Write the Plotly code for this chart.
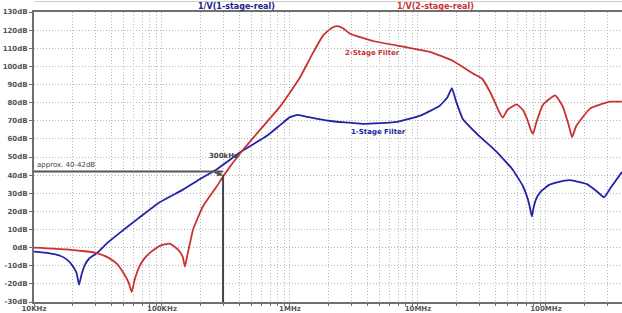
import plotly.graph_objects as go

# ---- data ----
freq_1stage = [10e3, 13e3, 16e3, 18e3, 20e3, 21.5e3, 22.5e3, 23.5e3, 25e3, 27e3, 31e3, 38e3,
               47e3, 65e3, 96e3, 146e3, 200e3, 269e3, 422e3, 661e3, 850e3, 1.0e6, 1.15e6,
               1.4e6, 2.0e6, 3.7e6, 6.9e6, 10.4e6, 14.8e6, 17e6, 18.4e6, 20e6, 22.4e6,
               30e6, 41e6, 55e6, 66e6, 72e6, 75e6, 77.6e6, 80e6, 84e6, 90e6, 105e6, 122e6,
               154e6, 209e6, 250e6, 284e6, 320e6, 392e6]
db_1stage = [-2.2, -3, -4.5, -6.5, -10, -14, -20.5, -15, -9.5, -6, -3, 3,
             8.3, 16, 25, 32, 38, 43.3, 53.3, 61.7, 68, 72, 73.2,
             72, 70, 68.3, 69.4, 72.8, 78.3, 83, 88, 80, 71,
             61.7, 53, 43, 34, 27, 22, 17.2, 22, 27, 30.5, 34.5, 36,
             37.2, 35, 31, 27.8, 33, 41.7]

freq_2stage = [10e3, 18e3, 25e3, 31e3, 38e3, 44.5e3, 50e3, 55e3, 58e3, 61e3, 66e3, 72e3,
               80e3, 96e3, 115e3, 133e3, 145e3, 151e3, 158e3, 166e3, 175e3, 209e3, 269e3,
               305e3, 422e3, 661e3, 836e3, 1.05e6, 1.2e6, 1.5e6, 1.81e6, 2.1e6, 2.33e6,
               2.6e6, 2.95e6, 4.44e6, 8.2e6, 12.4e6, 18.8e6, 27e6, 31.6e6, 36.5e6, 40e6,
               43e6, 46e6, 50e6, 59e6, 66e6, 72e6, 76e6, 79.4e6, 84e6, 95e6, 118e6,
               135e6, 150e6, 160e6, 172e6, 221e6, 316e6, 392e6]
db_2stage = [0, -1, -2, -3, -5.5, -9, -14, -19.5, -24.5, -18, -11, -6.5,
             -3, 1, 2.2, -1, -5, -10.5, -4, 3, 10, 22.8, 34,
             40, 53.3, 69.4, 77.8, 87.8, 94, 107, 117, 121, 122.2,
             121, 118, 114, 110.5, 108, 103, 96, 93.3, 86, 80,
             75, 71.7, 76, 79, 76, 70, 65, 62.8, 69, 79, 84,
             78, 68, 61, 67, 76.7, 80.5, 80.5]

x_tick_vals = [1e4, 1e5, 1e6, 1e7, 1e8]
x_tick_text = ["10KHz", "100KHz", "1MHz", "10MHz", "100MHz"]
y_tick_vals = list(range(-30, 131, 10))
y_tick_text = [f"{v}dB" for v in y_tick_vals]

marker_freq = 300e3      # 300 kHz marker
marker_db = 42           # approx. 40-42 dB level
marker_point_db = 40     # where the marker meets the 2-stage curve

BLUE = "#2323a6"
RED = "#c93232"
GRID = "#b8b8b8"
AXIS = "#707070"
TXT = "#555555"
FONT = "DejaVu Sans"
DOTS = "1px,2px"

fig = go.Figure()
fig.add_trace(go.Scatter(x=freq_1stage, y=db_1stage, mode="lines",
                         line=dict(color=BLUE, width=1.8, shape="spline", smoothing=0.4),
                         name="1/V(1-stage-real)"))
fig.add_trace(go.Scatter(x=freq_2stage, y=db_2stage, mode="lines",
                         line=dict(color=RED, width=1.8, shape="spline", smoothing=0.4),
                         name="1/V(2-stage-real)"))

# marker lines
fig.add_shape(type="line", xref="x", yref="y", x0=1e4, x1=marker_freq,
              y0=marker_db, y1=marker_db, line=dict(color="#555555", width=2))
fig.add_shape(type="line", xref="x", yref="y", x0=marker_freq, x1=marker_freq,
              y0=marker_point_db, y1=-30, line=dict(color="#444444", width=2))
fig.add_annotation(x=5.477, y=marker_point_db, xref="x", yref="y", ax=-10, ay=-3,
                   showarrow=True, arrowhead=2, arrowsize=0.8, arrowwidth=1.5,
                   arrowcolor="#555555", text="")

# text labels
fig.add_annotation(x=6.648, y=107.2, text="<b>2-Stage Filter</b>", showarrow=False,
                   font=dict(family=FONT, size=7, color=RED))
fig.add_annotation(x=6.69, y=63.9, text="<b>1-Stage Filter</b>", showarrow=False,
                   font=dict(family=FONT, size=7, color=BLUE))
fig.add_annotation(x=5.477, y=50.5, text="<b>300kHz</b>", showarrow=False,
                   font=dict(family=FONT, size=7, color="#444444"))
fig.add_annotation(x=4.01, y=45.5, text="approx. 40-42dB", showarrow=False, xanchor="left",
                   font=dict(family=FONT, size=7, color="#444444"))

# header titles
fig.add_annotation(xref="paper", yref="paper", x=(196 - 34) / 588, y=1.0, yanchor="bottom",
                   yshift=-1, text="<b>1/V(1-stage-real)</b>", showarrow=False,
                   font=dict(family=FONT, size=8, color="#22228a"))
fig.add_annotation(xref="paper", yref="paper", x=(476 - 34) / 588, y=1.0, yanchor="bottom",
                   yshift=-1, text="<b>1/V(2-stage-real)</b>", showarrow=False,
                   font=dict(family=FONT, size=8, color=RED))
fig.add_shape(type="line", xref="paper", yref="paper", x0=0, x1=1, y0=1.036, y1=1.036,
              line=dict(color="#cccccc", width=1))

fig.update_layout(
    width=622, height=313,
    margin=dict(l=34, r=0, t=12, b=11, autoexpand=False),
    paper_bgcolor="white", plot_bgcolor="white",
    showlegend=False,
    font=dict(family=FONT, size=7, color=TXT),
    xaxis=dict(type="log", range=[4, 8.594], tickmode="array", tickvals=x_tick_vals,
               ticktext=x_tick_text, ticks="outside", ticklen=2, tickcolor=AXIS,
               ticklabelstandoff=-3,
               showgrid=True, gridcolor=GRID, griddash=DOTS, gridwidth=1,
               showline=True, linecolor=AXIS, linewidth=2, mirror=True, automargin=False,
               tickfont=dict(family=FONT, size=7, color=TXT, weight="bold"),
               minor=dict(dtick="D1", showgrid=True, gridcolor=GRID, griddash=DOTS,
                          ticks="outside", ticklen=2, tickcolor=AXIS),
               zeroline=False),
    yaxis=dict(range=[-30, 130], tickmode="array", tickvals=y_tick_vals, ticktext=y_tick_text,
               ticks="outside", ticklen=3, tickcolor=AXIS, automargin=False,
               showgrid=True, gridcolor=GRID, griddash=DOTS, gridwidth=1,
               showline=True, linecolor=AXIS, linewidth=2, mirror=True,
               tickfont=dict(family=FONT, size=7, color=TXT, weight="bold"),
               zeroline=False),
)

fig.write_html("out.html", config={"displayModeBar": False},
               post_script="document.body.style.margin='0';document.body.style.overflow='hidden';")
